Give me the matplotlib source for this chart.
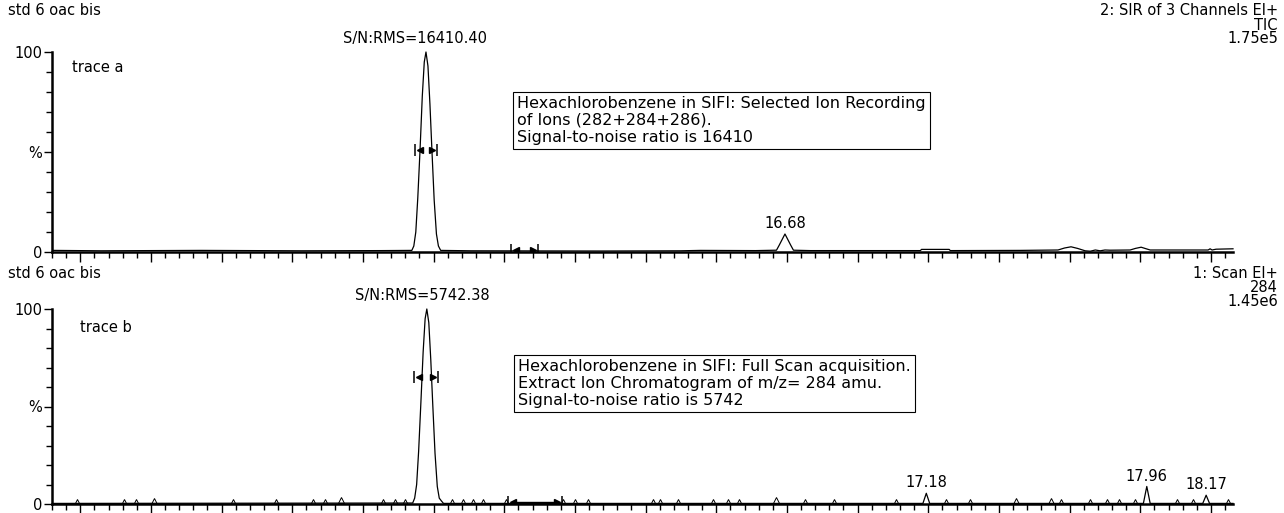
import numpy as np
import matplotlib
matplotlib.use("Agg")
import matplotlib.pyplot as plt
from matplotlib.transforms import offset_copy

plt.rcParams['font.family'] = ['DejaVu Sans']
FS = 10.5
FS_BOX = 11.5

# trace a: SIR, 3 channels (time in min, intensity in %)
trace_a_time = [14.092, 14.261, 14.615, 14.968, 15.251, 15.360, 15.367, 15.374, 15.381,
                15.389, 15.397, 15.404, 15.410, 15.417, 15.424, 15.431, 15.439, 15.447,
                15.454, 15.462, 15.569, 16.028, 16.311, 16.381, 16.576, 16.650, 16.660,
                16.680, 16.700, 16.710, 16.770, 17.159, 17.163, 17.261, 17.265, 17.512,
                17.646, 17.669, 17.692, 17.715, 17.742, 17.760, 17.778, 17.795, 17.812,
                17.830, 17.901, 17.920, 17.940, 17.958, 17.972, 18.177, 18.184, 18.191,
                18.205, 18.265]
trace_a_int = [0.8, 0.6, 0.8, 0.6, 0.7, 0.8, 3, 10, 27,
               51, 78, 95, 100, 93, 74, 51, 26, 9,
               3, 0.8, 0.6, 0.5, 0.6, 0.8, 0.7, 0.9, 3.5,
               9.0, 3.5, 0.9, 0.7, 0.7, 1.3, 1.3, 0.7, 0.8,
               1.0, 2.0, 2.6, 1.8, 0.6, 0.4, 1.0, 0.6, 1.0,
               0.9, 1.0, 1.8, 2.4, 1.6, 1.0, 1.0, 1.6, 1.0,
               1.4, 1.6]

# trace b: full scan, extracted m/z 284
trace_b_time = [14.092, 15.363, 15.370, 15.377, 15.384, 15.392, 15.400, 15.407, 15.413,
                15.420, 15.427, 15.434, 15.442, 15.450, 15.457, 15.465, 15.472,
                17.168, 17.180, 17.192, 17.948, 17.960, 17.972, 18.158, 18.170, 18.182,
                18.265]
trace_b_int = [0.3, 0.5, 3, 10, 27, 52, 78, 95, 100,
               93, 74, 51, 26, 9, 3, 1.5, 0.3,
               0.3, 5.5, 0.3, 0.3, 9.0, 0.3, 0.3, 4.5, 0.3,
               0.3]

# small noise spikes on trace b
noise_b_time = [14.177, 14.343, 14.385, 14.449, 14.728, 14.880, 15.010, 15.053, 15.109,
                15.258, 15.300, 15.336, 15.502, 15.540, 15.576, 15.611, 15.692, 15.894,
                15.936, 15.982, 16.212, 16.237, 16.300, 16.424, 16.477, 16.519, 16.650,
                16.752, 16.855, 17.074, 17.251, 17.336, 17.498, 17.622, 17.657, 17.760,
                17.820, 17.862, 17.919, 18.067, 18.124, 18.247]
noise_b_int = [1.2, 1.2, 1.2, 1.5, 1.2, 1.2, 1.2, 1.2, 2.0,
               1.2, 1.2, 1.2, 1.2, 1.2, 1.2, 1.2, 1.2, 1.2,
               1.2, 1.2, 1.2, 1.2, 1.2, 1.2, 1.2, 1.2, 1.8,
               1.2, 1.2, 1.2, 1.2, 1.2, 1.5, 1.5, 1.2, 1.2,
               1.2, 1.2, 1.2, 1.2, 1.2, 1.2]

# integration markers (start time, end time, level %)
marks_a = [(15.389, 15.431, 51), (15.728, 15.788, 1)]
marks_b = [(15.387, 15.434, 65), (15.717, 15.873, 1)]

peak_labels_a = [(16.68, 9.0, "16.68")]
peak_labels_b = [(17.18, 5.5, "17.18"), (17.96, 9.0, "17.96"), (18.17, 4.5, "18.17")]

W, H = 1284, 513
fig = plt.figure(figsize=(W / 100, H / 100), dpi=100)


def px(x, y):
    return x / W, 1 - y / H


def setup(ax):
    ax.set_xlim(14.092, 18.265)
    ax.set_ylim(0, 100)
    for s in ['top', 'right']:
        ax.spines[s].set_visible(False)
    ax.spines['left'].set_linewidth(1.8)
    ax.spines['bottom'].set_linewidth(1.8)
    ax.set_xticks(np.arange(14.187, 18.27, 0.25))
    ax.set_xticks(np.arange(14.087, 18.27, 0.05), minor=True)
    ax.set_xticklabels([])
    ax.set_yticks([0, 50, 100])
    ax.set_yticklabels(['0', '%', '100'], fontsize=FS)
    ax.set_yticks(np.arange(0, 101, 10), minor=True)
    ax.tick_params(axis='x', which='major', length=7, width=1.0, direction='out')
    ax.tick_params(axis='x', which='minor', length=4, width=1.0, direction='out')
    ax.tick_params(axis='y', which='major', length=6, width=1.0, pad=1)
    ax.tick_params(axis='y', which='minor', length=4, width=1.0)


def draw_marks(ax, marks):
    # |<  >|  style start / end markers
    out_l = offset_copy(ax.transData, fig=fig, x=-5, y=0, units='dots')
    out_r = offset_copy(ax.transData, fig=fig, x=5, y=0, units='dots')
    for t0, t1, lev in marks:
        ax.plot([t0], [lev], ls='none', marker='|', ms=8, mew=1.1, color='black', transform=out_l)
        ax.plot([t1], [lev], ls='none', marker='|', ms=8, mew=1.1, color='black', transform=out_r)
        ax.plot([t0], [lev], ls='none', marker='<', ms=4, color='black')
        ax.plot([t1], [lev], ls='none', marker='>', ms=4, color='black')


ax1 = fig.add_axes([52 / W, 1 - 252 / H, 1181 / W, 200 / H])
setup(ax1)
ax1.plot(trace_a_time, trace_a_int, color='black', lw=0.9, clip_on=False)
draw_marks(ax1, marks_a)
ax1.annotate("S/N:RMS=16410.40", xy=(15.410, 100), xytext=(-8, 10),
             textcoords='offset points', ha='center', va='center', fontsize=FS)
for t, v, lab in peak_labels_a:
    ax1.annotate(lab, xy=(t, v), xytext=(0, 2), textcoords='offset points',
                 ha='center', va='bottom', fontsize=FS)

ax2 = fig.add_axes([52 / W, 1 - 504 / H, 1181 / W, 195 / H])
setup(ax2)
ax2.plot(trace_b_time, trace_b_int, color='black', lw=0.9, clip_on=False)
ax2.plot(noise_b_time, noise_b_int, ls='none', marker='^', ms=4, mfc='none',
         mec='black', mew=0.7)
draw_marks(ax2, marks_b)
ax2.plot([marks_b[1][0], marks_b[1][1]], [1, 1], color='black', lw=1)
ax2.annotate("S/N:RMS=5742.38", xy=(15.413, 100), xytext=(-3, 10),
             textcoords='offset points', ha='center', va='center', fontsize=FS)
for t, v, lab in peak_labels_b:
    ax2.annotate(lab, xy=(t, v), xytext=(0, 2), textcoords='offset points',
                 ha='center', va='bottom', fontsize=FS)

# header texts
fig.text(*px(8, 11), "std 6 oac bis", ha='left', va='center', fontsize=FS)
fig.text(*px(1278, 11), "2: SIR of 3 Channels EI+", ha='right', va='center', fontsize=FS)
fig.text(*px(1278, 25), "TIC", ha='right', va='center', fontsize=FS)
fig.text(*px(1278, 39), "1.75e5", ha='right', va='center', fontsize=FS)
fig.text(*px(72, 68), "trace a", ha='left', va='center', fontsize=FS)

fig.text(*px(8, 273), "std 6 oac bis", ha='left', va='center', fontsize=FS)
fig.text(*px(1278, 273), "1: Scan EI+", ha='right', va='center', fontsize=FS)
fig.text(*px(1278, 287), "284", ha='right', va='center', fontsize=FS)
fig.text(*px(1278, 301), "1.45e6", ha='right', va='center', fontsize=FS)
fig.text(*px(80, 327), "trace b", ha='left', va='center', fontsize=FS)

box = dict(boxstyle='square,pad=0.25', fc='white', ec='black', lw=0.8)
fig.text(*px(517, 96),
         "Hexachlorobenzene in SIFI: Selected Ion Recording\n"
         "of Ions (282+284+286).\n"
         "Signal-to-noise ratio is 16410",
         ha='left', va='top', fontsize=FS_BOX, linespacing=1.15, bbox=box)
fig.text(*px(518, 359),
         "Hexachlorobenzene in SIFI: Full Scan acquisition.\n"
         "Extract Ion Chromatogram of m/z= 284 amu.\n"
         "Signal-to-noise ratio is 5742",
         ha='left', va='top', fontsize=FS_BOX, linespacing=1.15, bbox=box)

fig.savefig("out.png", dpi=100)
